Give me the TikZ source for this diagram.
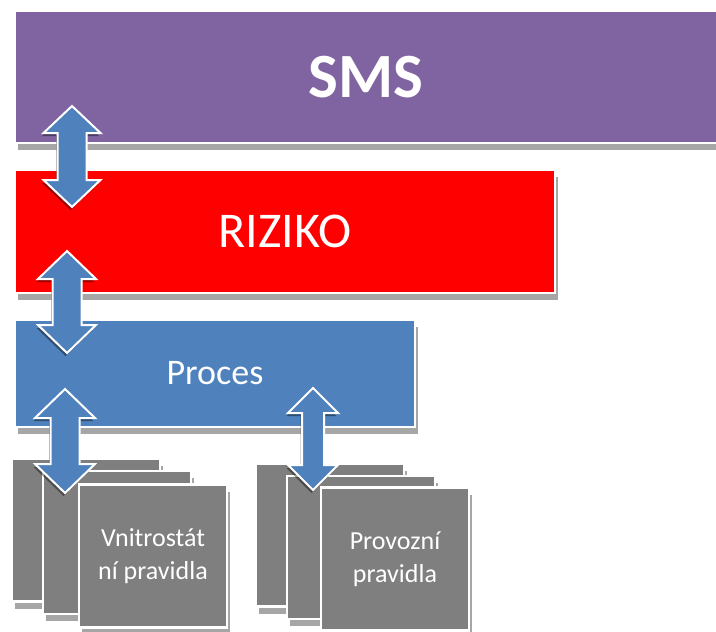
\documentclass[tikz,border=0pt]{standalone}
\usepackage{fontspec}
\setmainfont{Carlito}
\usetikzlibrary{shadows}
\definecolor{smspurple}{HTML}{8064A2}
\definecolor{rizred}{HTML}{FF0000}
\definecolor{procblue}{HTML}{4F81BD}
\definecolor{rulegray}{HTML}{7F7F7F}
\definecolor{shadegray}{HTML}{A6A6A6}
% vertical double arrow: name, cx, ytop, ybottom, head half width, shaft half width, head length
\newcommand{\vlink}[7]{%
  \fill[linkshadow, shift={(-1.5,3)}]
    (#2,#3) -- ({#2+#5},{#3+#7}) -- ({#2+#6},{#3+#7}) -- ({#2+#6},{#4-#7}) -- ({#2+#5},{#4-#7})
    -- (#2,#4) -- ({#2-#5},{#4-#7}) -- ({#2-#6},{#4-#7}) -- ({#2-#6},{#3+#7}) -- ({#2-#5},{#3+#7}) -- cycle;
  \filldraw[linkarrow]
    (#2,#3) -- ({#2+#5},{#3+#7}) -- ({#2+#6},{#3+#7}) -- ({#2+#6},{#4-#7}) -- ({#2+#5},{#4-#7})
    -- (#2,#4) -- ({#2-#5},{#4-#7}) -- ({#2-#6},{#4-#7}) -- ({#2-#6},{#3+#7}) -- ({#2-#5},{#3+#7}) -- cycle;
  \coordinate (#1) at (#2,{(#3+#4)/2});%
}
\begin{document}
\begin{tikzpicture}[x=1pt,y=-1pt,
  layerbox/.style={draw=white, line width=2.5pt, inner sep=0pt, text=white,
    drop shadow={shadow xshift=2.5pt, shadow yshift=-7pt, fill=shadegray, opacity=1}},
  rulebox/.style={layerbox, fill=rulegray, minimum width=148pt, minimum height=143pt,
    align=center, font=\fontsize{26}{33}\selectfont},
  linkarrow/.style={fill=procblue, draw=white, line width=2pt, line join=miter},
  linkshadow/.style={fill=black, opacity=0.4}]
\useasboundingbox (0,0) rectangle (716,632);
\fill[white] (0,0) rectangle (716,632);

\node[layerbox, fill=smspurple, minimum width=702pt, minimum height=132pt,
  font=\fontsize{63}{70}\selectfont\bfseries] (sms) at (366,77) {SMS};
\node[layerbox, fill=rizred, minimum width=540pt, minimum height=123pt,
  font=\fontsize{50}{60}\selectfont] (riziko) at (285,231.5) {RIZIKO};
\node[layerbox, fill=procblue, minimum width=400pt, minimum height=107pt,
  font=\fontsize{36}{44}\selectfont] (proces) at (215,373.5) {Proces};

\node[rulebox] (v1) at (86,530) {};
\node[rulebox] (v2) at (117,542.5) {};
\node[rulebox] (v3) at (153,556) {Vnitrostát\\ní pravidla};

\node[rulebox] (p1) at (330,535) {};
\node[rulebox] (p2) at (361,547.5) {};
\node[rulebox] (p3) at (395,559) {Provozní\\pravidla};

\vlink{a1}{72}{106}{207}{28.5}{14.5}{27}
\vlink{a2}{67}{251}{353}{29}{14.5}{28}
\vlink{a3}{65}{389}{493}{30}{14.5}{29}
\vlink{a4}{313}{388}{490}{25}{11}{25}
\end{tikzpicture}
\end{document}
